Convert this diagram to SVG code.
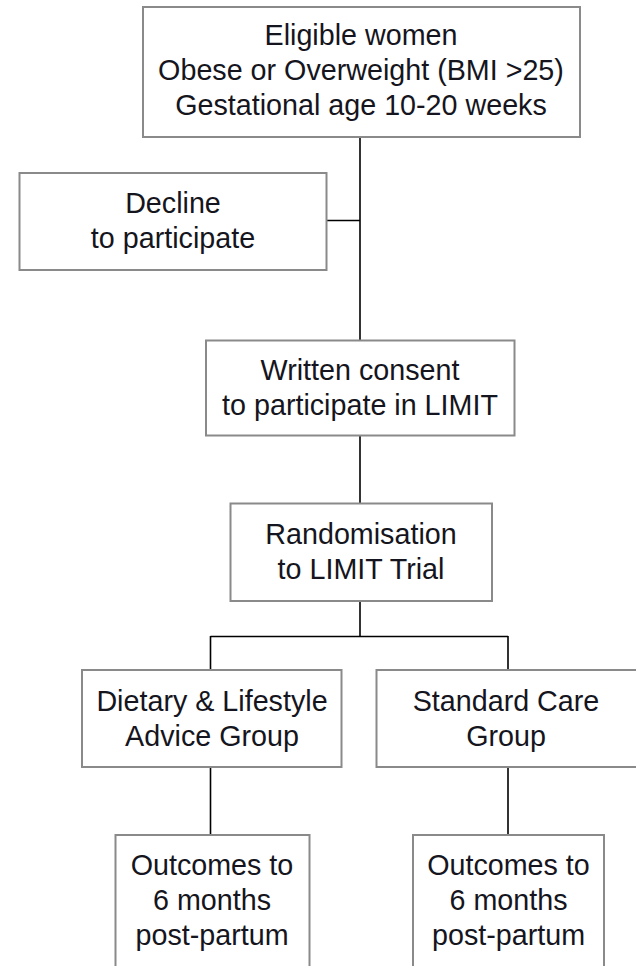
<svg xmlns="http://www.w3.org/2000/svg" width="636" height="966" viewBox="0 0 636 966">
<style>
.box{fill:#ffffff;stroke:#8a8a8a;stroke-width:2}
.t{font-family:"Liberation Sans",Arial,sans-serif;font-size:28.7px;fill:#151520;text-anchor:middle}
.c{fill:none;stroke:#000000;stroke-width:1.6}
</style>
<rect width="636" height="966" fill="#ffffff"/>
<g id="connectors">
<path class="c" d="M360 137 V340.5"/>
<path class="c" d="M326.5 220.5 H360"/>
<path class="c" d="M360 435.5 V503.5"/>
<path class="c" d="M360 601 V636.5"/>
<path class="c" d="M210.5 636.5 H508 M210.5 636 V670 M508 636 V670"/>
<path class="c" d="M210.5 767 V835"/>
<path class="c" d="M508 767 V835"/>
</g>
<g id="eligible">
<rect class="box" x="143" y="7" width="437" height="130"/>
<text class="t" x="361" y="45">Eligible women</text>
<text class="t" x="361" y="80">Obese or Overweight (BMI &gt;25)</text>
<text class="t" x="361" y="115">Gestational age 10-20 weeks</text>
</g>
<g id="decline">
<rect class="box" x="19.5" y="173" width="307" height="97"/>
<text class="t" x="173" y="213">Decline</text>
<text class="t" x="173" y="248">to participate</text>
</g>
<g id="consent">
<rect class="box" x="206" y="340.5" width="308.5" height="95"/>
<text class="t" x="360" y="380">Written consent</text>
<text class="t" x="360" y="415">to participate in LIMIT</text>
</g>
<g id="randomisation">
<rect class="box" x="230.5" y="503.5" width="261.5" height="97.5"/>
<text class="t" x="361" y="544">Randomisation</text>
<text class="t" x="361" y="579">to LIMIT Trial</text>
</g>
<g id="dietary">
<rect class="box" x="82" y="670" width="259.5" height="97"/>
<text class="t" x="212" y="711">Dietary &amp; Lifestyle</text>
<text class="t" x="212" y="746">Advice Group</text>
</g>
<g id="standard">
<rect class="box" x="376.5" y="670" width="262" height="97"/>
<text class="t" x="506" y="711">Standard Care</text>
<text class="t" x="506" y="746">Group</text>
</g>
<g id="outcomes-left">
<rect class="box" x="115.5" y="835" width="194" height="140"/>
<text class="t" x="212" y="875">Outcomes to</text>
<text class="t" x="212" y="910">6 months</text>
<text class="t" x="212" y="945">post-partum</text>
</g>
<g id="outcomes-right">
<rect class="box" x="413" y="835" width="191" height="140"/>
<text class="t" x="508.5" y="875">Outcomes to</text>
<text class="t" x="508.5" y="910">6 months</text>
<text class="t" x="508.5" y="945">post-partum</text>
</g>
</svg>
